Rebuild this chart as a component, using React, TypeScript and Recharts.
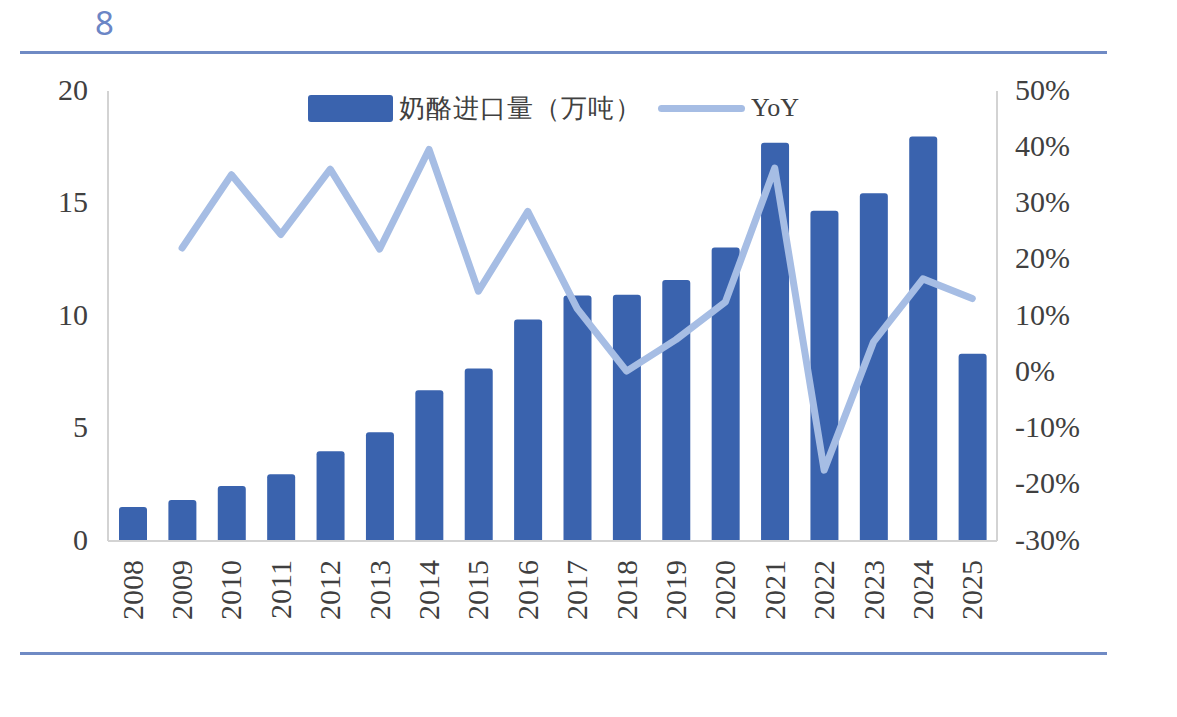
import { ComposedChart, Bar, Line, XAxis, YAxis } from 'recharts';

const years = [
  '2008', '2009', '2010', '2011', '2012', '2013', '2014', '2015', '2016',
  '2017', '2018', '2019', '2020', '2021', '2022', '2023', '2024', '2025',
];
// cheese imports, 10k tonnes
const imports = [
  1.51, 1.82, 2.44, 2.97, 3.99, 4.83, 6.70, 7.67, 9.85,
  10.91, 10.95, 11.6, 13.04, 17.7, 14.68, 15.46, 17.98, 8.32,
];
// year-over-year change, %
const yoy = [
  null, 22.1, 35.1, 24.5, 36.1, 21.9, 39.6, 14.4, 28.6,
  11.3, 0.2, 5.8, 12.5, 36.3, -17.4, 5.4, 16.6, 13.1,
];
const leftTicks = [0, 5, 10, 15, 20];
const rightTicks = [-30, -20, -10, 0, 10, 20, 30, 40, 50];

const data = years.map((year, i) => ({ year, imports: imports[i], yoy: yoy[i] }));

const BAR = '#3A63AE';
const LINE = '#A6BDE4';
const AXIS = '#D3D3D3';
const RULE = '#6F8AC4';
const TEXT = '#404040';
const serif = '"Liberation Serif", "Times New Roman", serif';
const tickStyle = { fontSize: 30, fill: TEXT, fontFamily: serif };

const YearTick = ({ x, y, payload }: { x?: number; y?: number; payload?: { value: string } }) => (
  <text
    x={x}
    y={y}
    dy={10}
    transform={`rotate(-90, ${x}, ${y})`}
    textAnchor="end"
    fontSize={30}
    fill={TEXT}
    fontFamily={serif}
  >
    {payload?.value}
  </text>
);

export default function App() {
  return (
    <div style={{ position: 'absolute', left: 0, top: 0, width: 1177, height: 717, background: '#fff' }}>
      {/* page number */}
      <div
        style={{
          position: 'absolute', left: 95, top: 0, fontSize: 33, color: '#6B86C6',
          fontFamily: '"Noto Sans", sans-serif',
        }}
      >
        8
      </div>
      <div style={{ position: 'absolute', left: 20, top: 51, width: 1087, height: 3, background: RULE }} />
      <div style={{ position: 'absolute', left: 20, top: 652, width: 1087, height: 3, background: RULE }} />

      <ComposedChart
        width={1177}
        height={717}
        data={data}
        margin={{ top: 91, left: 48, right: 100, bottom: 86 }}
        style={{ position: 'absolute', left: 0, top: 0 }}
      >
        <XAxis
          dataKey="year"
          height={90}
          tickLine={false}
          tickMargin={13}
          axisLine={{ stroke: AXIS, strokeWidth: 2 }}
          interval={0}
          tick={<YearTick />}
        />
        <YAxis
          yAxisId="left"
          width={60}
          domain={[0, 20]}
          ticks={leftTicks}
          tickLine={false}
          tickMargin={14}
          axisLine={{ stroke: AXIS, strokeWidth: 2 }}
          tick={{ ...tickStyle, dy: -2 }}
        />
        <YAxis
          yAxisId="right"
          orientation="right"
          width={80}
          domain={[-30, 50]}
          ticks={rightTicks}
          tickLine={false}
          tickMargin={12}
          tickFormatter={(v) => `${v}%`}
          axisLine={{ stroke: AXIS, strokeWidth: 2 }}
          tick={{ ...tickStyle, dy: -2, textAnchor: 'start' }}
        />
        <Bar
          yAxisId="left"
          dataKey="imports"
          fill={BAR}
          barSize={28}
          radius={[3, 3, 0, 0]}
          isAnimationActive={false}
        />
        <Line
          yAxisId="right"
          dataKey="yoy"
          stroke={LINE}
          strokeWidth={7}
          strokeLinejoin="round"
          strokeLinecap="round"
          dot={false}
          activeDot={false}
          isAnimationActive={false}
        />
      </ComposedChart>

      <div
        style={{
          position: 'absolute', left: 308, top: 90, height: 36, display: 'flex', alignItems: 'center',
          fontFamily: serif, fontSize: 26, color: TEXT, whiteSpace: 'nowrap',
        }}
      >
        <span style={{ width: 85, height: 27, background: BAR, borderRadius: 3, marginRight: 6 }} />
        <span style={{ letterSpacing: 1 }}>奶酪进口量（万吨）</span>
        <span style={{ width: 87, height: 7, background: LINE, borderRadius: 4, marginLeft: 16, marginRight: 6 }} />
        <span>YoY</span>
      </div>
    </div>
  );
}
